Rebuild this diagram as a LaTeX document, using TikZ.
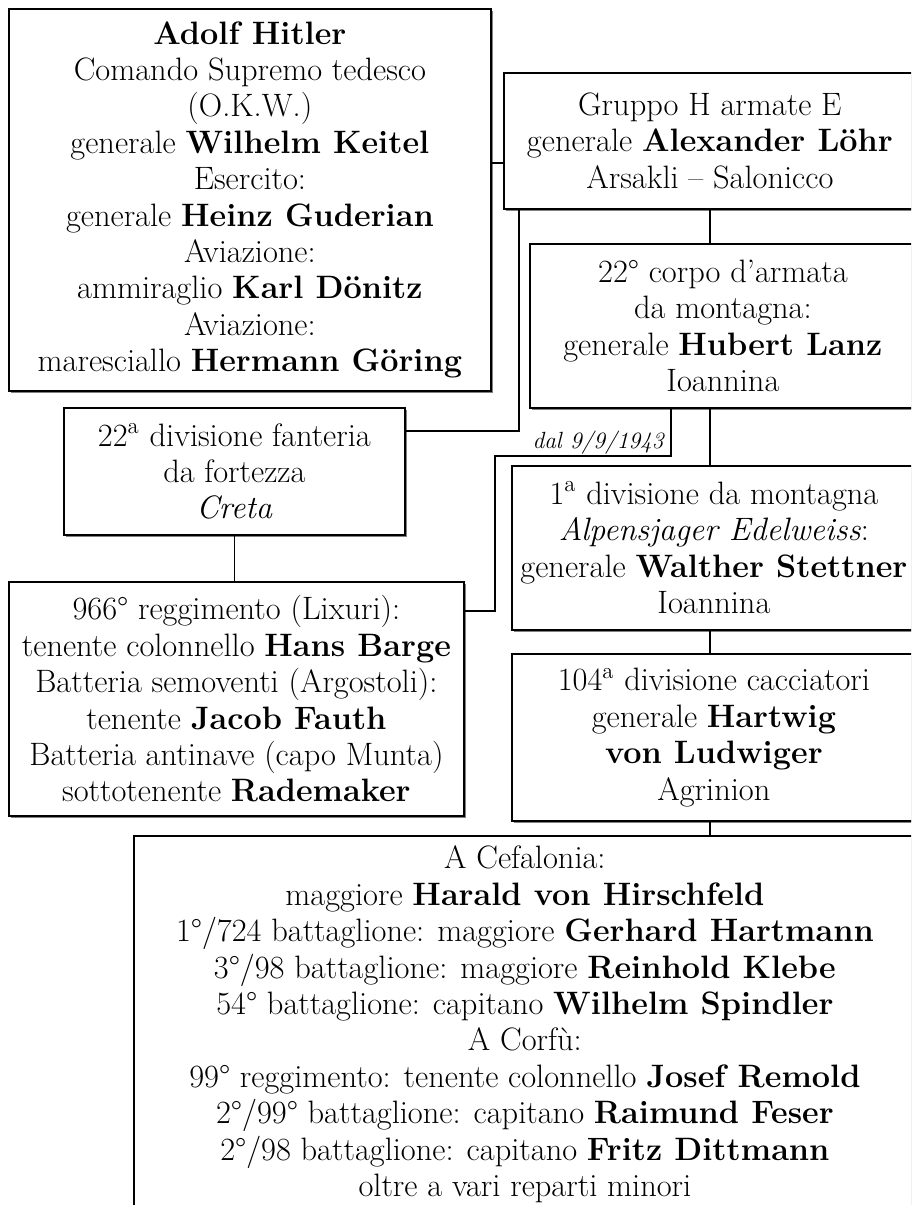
\documentclass[tikz,border=0pt]{standalone}
\usepackage{fontspec}
\usetikzlibrary{shadows}
\tikzset{
  unit/.style={draw, line width=0.9pt, fill=white, align=center, anchor=north west,
    inner sep=2pt, font=\fontsize{16.2}{18.2}\selectfont,
    drop shadow={shadow xshift=1.1pt, shadow yshift=-1.1pt, fill=black!50, opacity=1}},
  link/.style={line width=0.8pt},
  datelabel/.style={font=\fontsize{11.7}{13}\selectfont\itshape, anchor=base east, inner sep=1pt}
}
\begin{document}
\begin{tikzpicture}[x=0.5pt, y=-0.5pt]
  \useasboundingbox (0,0) rectangle (911,1205);
  \clip (0,0) rectangle (911,1205);
  % Left column
  \node[unit, minimum width=241pt, minimum height=191pt] (hitler) at (8,8)
    {\textbf{Adolf Hitler}\\Comando Supremo tedesco\\(O.K.W.)\\
     generale \textbf{Wilhelm Keitel}\\Esercito:\\generale \textbf{Heinz Guderian}\\
     Aviazione:\\ammiraglio \textbf{Karl Dönitz}\\Aviazione:\\
     maresciallo \textbf{Hermann Göring}};
  \node[unit, minimum width=170.5pt, minimum height=63.5pt] (div22) at (63,407)
    {22\textsuperscript{a} divisione fanteria\\da fortezza\\\textit{Creta}};
  \node[unit, minimum width=227.5pt, minimum height=117pt] (reg966) at (8,581)
    {966° reggimento (Lixuri):\\tenente colonnello \textbf{Hans Barge}\\
     Batteria semoventi (Argostoli):\\tenente \textbf{Jacob Fauth}\\
     Batteria antinave (capo Munta)\\sottotenente \textbf{Rademaker}};
  % Right column
  \node[unit, minimum width=206pt, minimum height=68pt] (gruppo) at (503,72)
    {Gruppo H armate E\\generale \textbf{Alexander Löhr}\\Arsakli -- Salonicco};
  \node[unit, minimum width=193pt, minimum height=82pt] (corpo) at (529,243)
    {22° corpo d'armata\\da montagna:\\generale \textbf{Hubert Lanz}\\Ioannina};
  \node[unit, minimum width=202pt, minimum height=82pt] (div1) at (511,465)
    {1\textsuperscript{a} divisione da montagna\\\textit{Alpensjager Edelweiss}:\\
     generale \textbf{Walther Stettner}\\Ioannina};
  \node[unit, minimum width=202pt, minimum height=83.5pt] (div104) at (511,653)
    {104\textsuperscript{a} divisione cacciatori\\generale \textbf{Hartwig}\\
     \textbf{von Ludwiger}\\Agrinion};
  \node[unit, minimum width=391pt, minimum height=188.5pt] (cefalonia) at (133,835)
    {A Cefalonia:\\maggiore \textbf{Harald von Hirschfeld}\\
     1°/724 battaglione: maggiore \textbf{Gerhard Hartmann}\\
     3°/98 battaglione: maggiore \textbf{Reinhold Klebe}\\
     54° battaglione: capitano \textbf{Wilhelm Spindler}\\A Corfù:\\
     99° reggimento: tenente colonnello \textbf{Josef Remold}\\
     2°/99° battaglione: capitano \textbf{Raimund Feser}\\
     2°/98 battaglione: capitano \textbf{Fritz Dittmann}\\
     oltre a vari reparti minori};
  % Bend points
  \coordinate (spine) at (710,0);
  \coordinate (linkA) at (0,163);
  \coordinate (bendA) at (519,431);
  \coordinate (bendB) at (671,456);
  \coordinate (bendC) at (495,611);
  % Connectors
  \draw[link, line width=1.2pt] (hitler.east |- linkA) -- (gruppo.west |- linkA);
  \draw[link] (gruppo.south -| bendA) |- (div22.east |- bendA);
  \draw[link] (gruppo.south -| spine) -- (corpo.north -| spine);
  \draw[link] (corpo.south -| bendB) -- (bendB) -| (bendC) -- (reg966.east |- bendC);
  \node[datelabel] (dal) at (666,448) {dal 9/9/1943};
  \draw[link] (corpo.south -| spine) -- (div1.north -| spine);
  \draw[link] (div1.south -| spine) -- (div104.north -| spine);
  \draw[link] (div104.south -| spine) -- (cefalonia.north -| spine);
  \draw[link] (div22.south) -- (reg966.north -| div22.south);
\end{tikzpicture}
\end{document}
